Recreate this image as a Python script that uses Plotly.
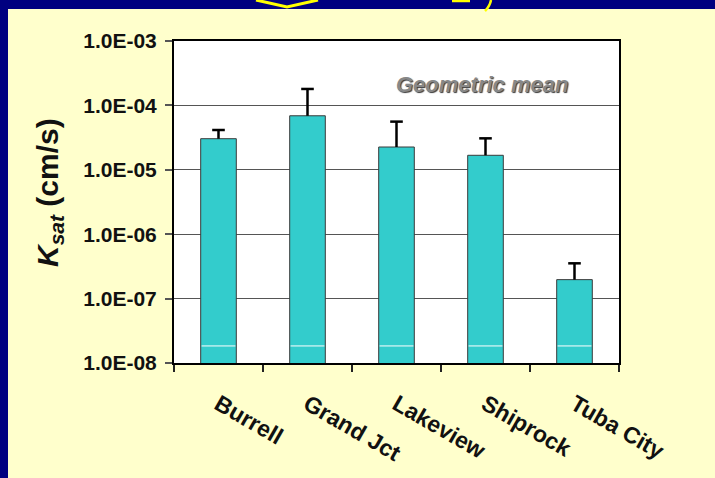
import plotly.graph_objects as go

# ---- data ----
sites = ["Burrell", "Grand Jct", "Lakeview", "Shiprock", "Tuba City"]
ksat_geomean = [3.04e-5, 6.9e-5, 2.26e-5, 1.68e-5, 1.97e-7]
ksat_upper = [4.15e-5, 1.80e-4, 5.6e-5, 3.08e-5, 3.53e-7]
y_tickvals = [1e-3, 1e-4, 1e-5, 1e-6, 1e-7, 1e-8]
y_ticktext = ["1.0E-03", "1.0E-04", "1.0E-05", "1.0E-06", "1.0E-07", "1.0E-08"]
stripe_level = 1.84e-8  # faint white stripe seen inside every bar

W, H = 715, 478
L, R, T, B = 174, 619, 41, 363  # plot area in px


def px(xp):
    return (xp - L) / (R - L)


def py(yp):
    return (B - yp) / (B - T)


FONT = "Arial, Liberation Sans, sans-serif"
bar_width = 0.4

fig = go.Figure()
fig.add_trace(go.Bar(
    x=sites, y=ksat_geomean, width=bar_width,
    marker=dict(color="#33CCCC", line=dict(color="#3a3a3a", width=1)),
    showlegend=False, hoverinfo="x+y",
))

# upper-only error whiskers (stem from bar top to upper value, cap at top)
stem_x, stem_y = [], []
for s, m, u in zip(sites, ksat_geomean, ksat_upper):
    stem_x += [s, s, None]
    stem_y += [m, u, None]
fig.add_trace(go.Scatter(
    x=stem_x, y=stem_y, mode="lines",
    line=dict(color="black", width=2.5),
    showlegend=False, hoverinfo="skip",
))
fig.add_trace(go.Scatter(
    x=sites, y=ksat_upper, mode="markers",
    marker=dict(symbol="line-ew-open", size=9, color="black",
                line=dict(color="black", width=2.5)),
    showlegend=False, hoverinfo="y",
))

shapes = []
# dark navy slide frame (left and top)
navy = "#000080"
shapes.append(dict(type="rect", xref="paper", yref="paper", layer="below",
                   x0=px(0), x1=px(8), y0=py(H), y1=py(0),
                   fillcolor=navy, line=dict(width=0)))
shapes.append(dict(type="rect", xref="paper", yref="paper", layer="below",
                   x0=px(0), x1=px(W), y0=py(9), y1=py(0),
                   fillcolor=navy, line=dict(width=0)))
# bits of yellow slide decoration along the top
yel = "#FFFF00"
shapes.append(dict(type="path", xref="paper", yref="paper",
                   path=f"M {px(256)},{py(0)} L {px(287)},{py(7)} L {px(318)},{py(0)}",
                   line=dict(color=yel, width=3)))
shapes.append(dict(type="line", xref="paper", yref="paper",
                   x0=px(452), x1=px(470), y0=py(1), y1=py(1),
                   line=dict(color=yel, width=2.5)))
shapes.append(dict(type="path", xref="paper", yref="paper",
                   path=f"M {px(491)},{py(0)} Q {px(490)},{py(6)} {px(485)},{py(11)}",
                   line=dict(color=yel, width=2.5)))
# white stripe inside each bar
for i, _ in enumerate(sites):
    shapes.append(dict(type="line", xref="x", yref="y", layer="above",
                       x0=i - bar_width / 2 + 0.01, x1=i + bar_width / 2 - 0.01,
                       y0=stripe_level, y1=stripe_level,
                       line=dict(color="white", width=1)))

fig.update_layout(
    width=W, height=H,
    margin=dict(l=L, r=W - R, t=T, b=H - B, pad=0),
    paper_bgcolor="#FFFFCC",
    plot_bgcolor="white",
    font=dict(family=FONT, color="#111111"),
    shapes=shapes,
    showlegend=False,
    annotations=[
        dict(text="Geometric mean", xref="paper", yref="paper",
             x=px(482), y=py(84), xanchor="center", yanchor="middle",
             showarrow=False,
             font=dict(family=FONT, size=22, color="#888888",
                       weight="bold", style="italic",
                       shadow="1px 1px 1px #3a3a3a")),
        dict(text="<b><i>K</i><sub><i>sat</i></sub> (cm/s)</b>",
             xref="paper", yref="paper", x=px(49), y=py(192),
             xanchor="center", yanchor="middle",
             textangle=-90, showarrow=False,
             font=dict(family=FONT, size=30, color="#111111")),
    ],
)

fig.update_yaxes(
    type="log", range=[-8, -3],
    tickvals=y_tickvals, ticktext=y_ticktext,
    tickfont=dict(family=FONT, size=21, color="#111111", weight="bold"),
    ticks="outside", ticklen=7, tickcolor="#555555", tickwidth=1.5,
    ticklabelstandoff=4,
    showgrid=True, gridcolor="#555555", gridwidth=1,
    showline=True, linecolor="black", linewidth=2, mirror=True,
    zeroline=False,
)
fig.update_xaxes(
    type="category",
    categoryorder="array", categoryarray=sites,
    tickangle=30,
    tickfont=dict(family=FONT, size=23, color="#111111", weight="bold"),
    ticks="outside", tickson="boundaries", ticklen=7,
    tickcolor="#222222", tickwidth=1.5,
    ticklabelstandoff=17,
    showgrid=False,
    showline=True, linecolor="black", linewidth=2, mirror=True,
)

fig.write_html(
    "out.html",
    config={"displayModeBar": False},
    post_script="document.body.style.margin='0';"
                "document.body.style.background='#000080';",
)
